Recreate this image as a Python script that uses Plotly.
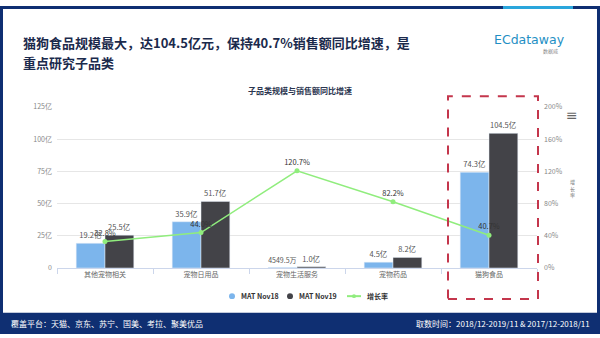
import plotly.graph_objects as go

# Sub-category data (unit: 亿元)
categories = ["其他宠物相关", "宠物日用品", "宠物生活服务", "宠物药品", "猫狗食品"]
mat_nov18 = [19.2, 35.9, 0.45495, 4.5, 74.3]
mat_nov19 = [25.5, 51.7, 1.0, 8.2, 104.5]
growth_pct = [32.8, 44.0, 120.7, 82.2, 40.7]

y_left_ticks = [0, 25, 50, 75, 100, 125]
y_left_text = ["0", "25亿", "50亿", "75亿", "100亿", "125亿"]
y_right_ticks = [0, 40, 80, 120, 160, 200]

C_BLUE = "#7cb5ec"
C_DARK = "#434348"
C_GREEN = "#90ed7d"
NAVY = "#0f2f72"
FONT = "Noto Sans CJK SC, Noto Sans, sans-serif"

W, H = 600, 338


def fmt_amount(v):
    return f"{v * 10000:.1f}万" if v < 1 else f"{v:.1f}亿"


def px(x):
    return x / W


def py(y):
    return 1 - y / H


def note(text, x, y, size, color, xanchor="center", family=FONT):
    return dict(text=text, x=px(x), y=py(y), xref="paper", yref="paper",
                xanchor=xanchor, yanchor="middle", showarrow=False,
                font=dict(size=size, color=color, family=family))


fig = go.Figure()

fig.add_trace(go.Bar(
    x=categories, y=mat_nov18, name="MAT Nov18", marker_color=C_BLUE,
    text=[fmt_amount(v) for v in mat_nov18], textposition="outside",
    textfont=dict(size=7.5, color="#555555", family=FONT),
    cliponaxis=False, showlegend=False,
))
fig.add_trace(go.Bar(
    x=categories, y=mat_nov19, name="MAT Nov19", marker_color=C_DARK,
    text=[fmt_amount(v) for v in mat_nov19], textposition="outside",
    textfont=dict(size=7.5, color="#555555", family=FONT),
    cliponaxis=False, showlegend=False,
))
fig.add_trace(go.Scatter(
    x=categories, y=growth_pct, name="增长率", yaxis="y2",
    mode="lines+markers+text",
    line=dict(color=C_GREEN, width=1.5),
    marker=dict(color=C_GREEN, size=5),
    text=[f"{v:.1f}%" for v in growth_pct], textposition="top center",
    textfont=dict(size=7.5, color="#333333", family=FONT),
    cliponaxis=False, showlegend=False,
))

shapes = [
    # outer frame
    dict(type="rect", xref="paper", yref="paper", x0=0, x1=px(3), y0=0, y1=1,
         fillcolor=NAVY, line_width=0, layer="below"),
    dict(type="rect", xref="paper", yref="paper", x0=px(597), x1=1, y0=0, y1=1,
         fillcolor=NAVY, line_width=0, layer="below"),
    dict(type="rect", xref="paper", yref="paper", x0=0, x1=1, y0=py(3), y1=1,
         fillcolor=NAVY, line_width=0, layer="below"),
    dict(type="rect", xref="paper", yref="paper", x0=px(503), x1=px(573), y0=py(3), y1=1,
         fillcolor="#2aa6dc", line_width=0, layer="below"),
    dict(type="rect", xref="paper", yref="paper", x0=0, x1=1, y0=0, y1=py(316),
         fillcolor=NAVY, line_width=0, layer="below"),
    # highlight box around 猫狗食品
    dict(type="rect", xref="paper", yref="paper", x0=px(448), x1=px(538), y0=py(302), y1=py(93),
         line=dict(color="#c4364c", width=2, dash="dash"), fillcolor="rgba(0,0,0,0)"),
    # legend symbols
    dict(type="circle", xref="paper", yref="paper", x0=px(229), x1=px(235), y0=py(302), y1=py(296),
         fillcolor=C_BLUE, line_width=0),
    dict(type="circle", xref="paper", yref="paper", x0=px(287), x1=px(293), y0=py(302), y1=py(296),
         fillcolor=C_DARK, line_width=0),
    dict(type="line", xref="paper", yref="paper", x0=px(347), x1=px(361), y0=py(299), y1=py(299),
         line=dict(color=C_GREEN, width=2)),
    dict(type="circle", xref="paper", yref="paper", x0=px(352), x1=px(356), y0=py(301), y1=py(297),
         fillcolor=C_GREEN, line_width=0),
]

annotations = [
    note("<b>猫狗食品规模最大，达104.5亿元，保持40.7%销售额同比增速，是</b>", 21, 38, 13,
         "#1b2a4c", xanchor="left"),
    note("<b>重点研究子品类</b>", 21, 58, 13, "#1b2a4c", xanchor="left"),
    note("ECdataway", 529, 35, 12.5, "#1f8fc4", family="DejaVu Sans"),
    note("数据威", 550, 46, 5, "#888888"),
    note("<b>子品类规模与销售额同比增速</b>", 300, 87, 8, "#2b3550"),
    note("增<br>长<br>率", 572, 188, 5, "#777777"),
    note("≡", 572, 112, 14, "#666666", family="DejaVu Sans"),
    note("<b>MAT Nov18</b>", 239, 299, 7, "#333333", xanchor="left"),
    note("<b>MAT Nov19</b>", 297, 299, 7, "#333333", xanchor="left"),
    note("<b>增长率</b>", 365, 299, 7, "#333333", xanchor="left"),
    note("覆盖平台：天猫、京东、苏宁、国美、考拉、聚美优品", 9, 327, 8, "#ffffff", xanchor="left"),
    note("取数时间：2018/12-2019/11 & 2017/12-2018/11", 592, 327, 8, "#ffffff", xanchor="right"),
]

fig.update_layout(
    width=W, height=H, margin=dict(l=0, r=0, t=0, b=0),
    paper_bgcolor="#ffffff", plot_bgcolor="#ffffff",
    font=dict(family=FONT, size=7, color="#666666"),
    barmode="group", bargap=0.4, bargroupgap=0, showlegend=False,
    xaxis=dict(domain=[px(57), px(537)], range=[-0.5, 4.5], showline=True, linecolor="#ccd6eb",
               ticks="outside", tickson="boundaries", ticklen=5, tickcolor="#ccd6eb",
               tickfont=dict(size=7, color="#666666"), showgrid=False),
    yaxis=dict(domain=[py(270), py(104)], range=[0, 125], tickvals=y_left_ticks,
               ticktext=y_left_text, gridcolor="#e6e6e6", zeroline=False,
               tickfont=dict(size=7, color="#888888"), ticklabelstandoff=4),
    yaxis2=dict(overlaying="y", side="right", range=[0, 200], tickvals=y_right_ticks,
                ticktext=[f"{v}%" for v in y_right_ticks], showgrid=False, zeroline=False,
                tickfont=dict(size=7, color="#888888"), ticklabelstandoff=6),
    shapes=shapes, annotations=annotations,
)

fig.write_html("out.html")
